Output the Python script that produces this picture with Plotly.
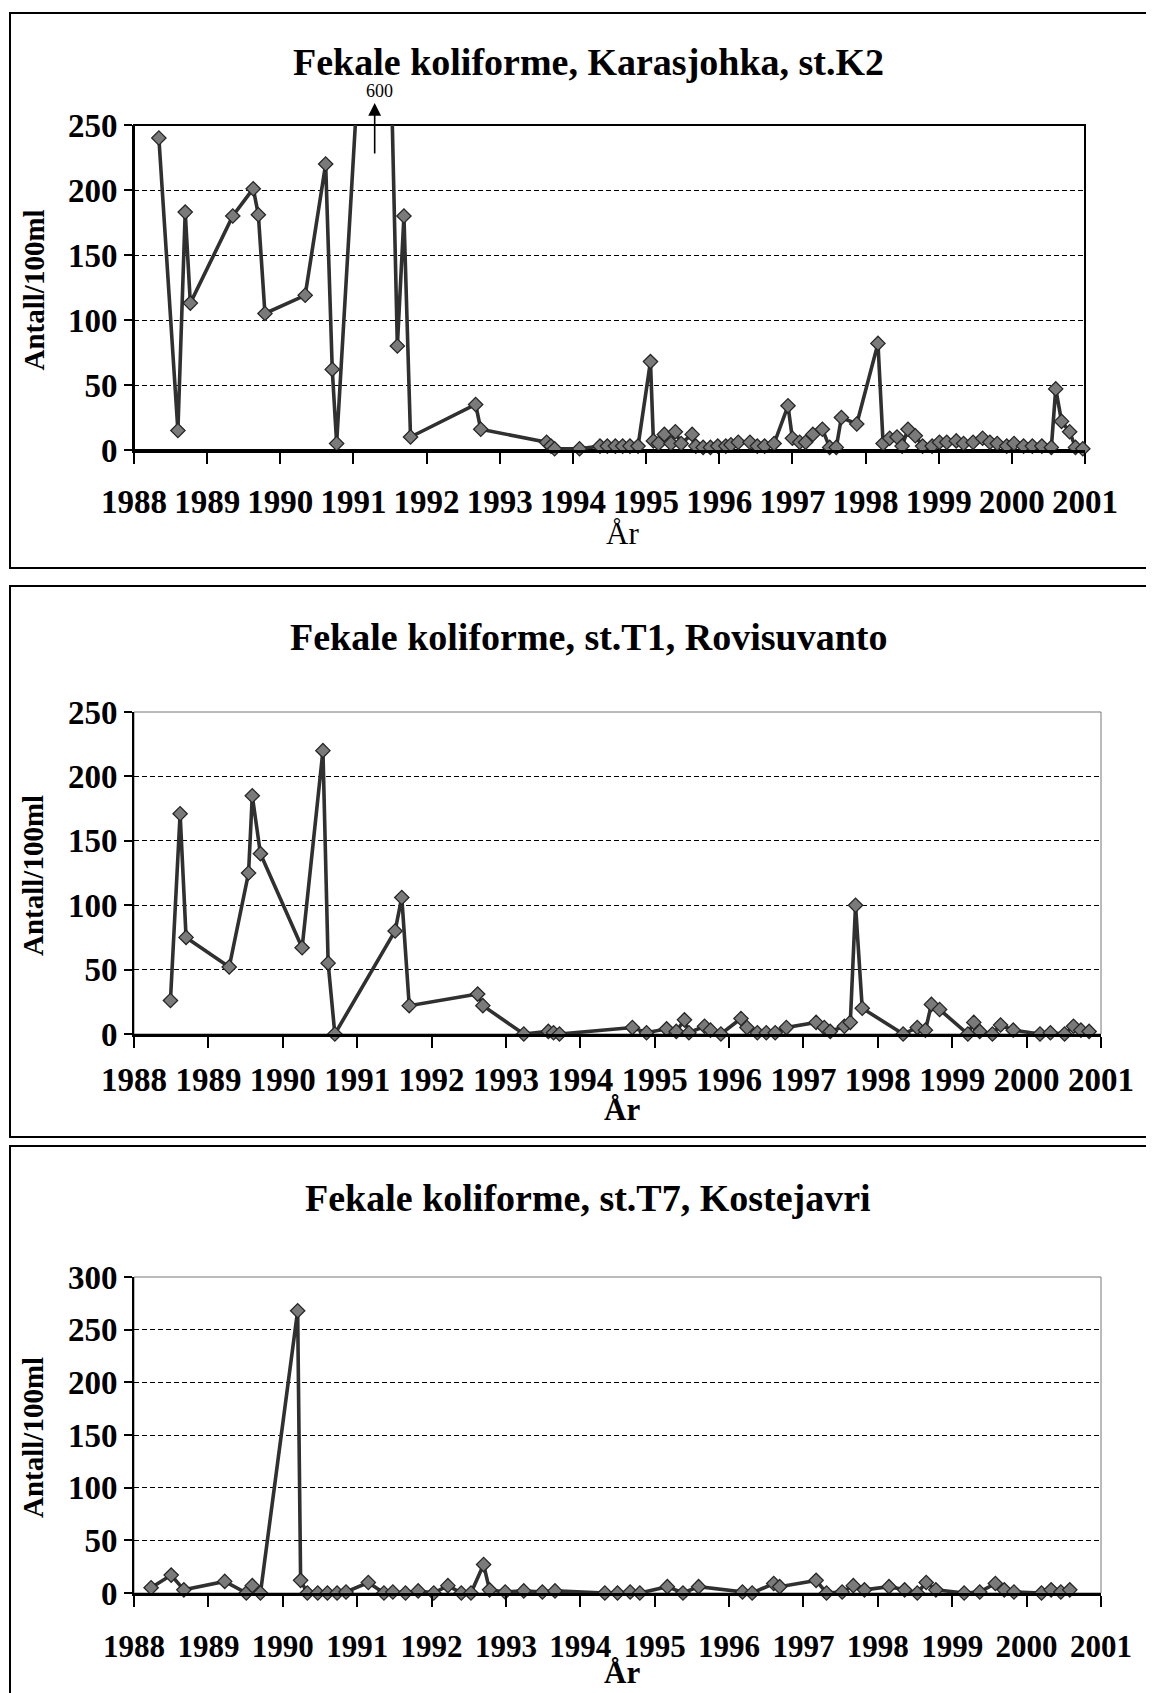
import plotly.graph_objects as go

# ---- data: Fekale koliforme (antall/100ml) ----
years = list(range(1988, 2002))
year_labels = [str(y) for y in years]

# st.K2 Karasjohka
k2_year = [1988.34, 1988.60, 1988.70, 1988.77, 1989.35, 1989.63, 1989.70, 1989.79,
           1990.34, 1990.62, 1990.71, 1990.77, 1991.39, 1991.60, 1991.69, 1991.78,
           1992.67, 1992.74, 1993.64, 1993.70, 1993.75, 1994.09, 1994.37, 1994.47,
           1994.58, 1994.68, 1994.78, 1994.89, 1995.06, 1995.10, 1995.17, 1995.25,
           1995.34, 1995.40, 1995.48, 1995.63, 1995.68, 1995.78, 1995.88, 1995.98,
           1996.09, 1996.16, 1996.26, 1996.42, 1996.52, 1996.62, 1996.75, 1996.94,
           1997.00, 1997.10, 1997.18, 1997.28, 1997.41, 1997.51, 1997.60, 1997.67,
           1997.88, 1998.17, 1998.24, 1998.33, 1998.43, 1998.50, 1998.58, 1998.68,
           1998.78, 1998.91, 1999.01, 1999.11, 1999.24, 1999.34, 1999.47, 1999.60,
           1999.70, 1999.80, 1999.93, 2000.03, 2000.16, 2000.28, 2000.41, 2000.54,
           2000.60, 2000.68, 2000.79, 2000.87, 2000.97]
k2_val = [240, 15, 183, 113, 180, 201, 181, 105,
          119, 220, 62, 5, 600, 80, 180, 10,
          35, 16, 6, 3, 1, 1, 3, 3,
          3, 3, 3, 3, 68, 7, 5, 12,
          5, 14, 5, 12, 3, 2, 2, 3,
          3, 4, 6, 6, 3, 3, 5, 34,
          9, 6, 6, 12, 16, 2, 2, 25,
          20, 82, 5, 9, 10, 3, 16, 11,
          3, 3, 6, 6, 7, 5, 6, 9,
          6, 5, 3, 5, 3, 3, 3, 2,
          47, 22, 14, 2, 1]

# st.T1 Rovisuvanto
t1_year = [1988.49, 1988.62, 1988.70, 1989.28, 1989.54, 1989.59, 1989.70, 1990.26,
           1990.54, 1990.61, 1990.70, 1991.51, 1991.60, 1991.70, 1992.62, 1992.69,
           1993.24, 1993.57, 1993.64, 1993.72, 1994.70, 1994.89, 1995.16, 1995.29,
           1995.40, 1995.46, 1995.67, 1995.75, 1995.89, 1996.16, 1996.24, 1996.38,
           1996.50, 1996.62, 1996.77, 1997.17, 1997.28, 1997.36, 1997.55, 1997.63,
           1997.70, 1997.79, 1998.34, 1998.53, 1998.64, 1998.72, 1998.83, 1999.21,
           1999.29, 1999.37, 1999.54, 1999.65, 1999.82, 2000.18, 2000.32, 2000.51,
           2000.63, 2000.73, 2000.84]
t1_val = [26, 171, 75, 52, 125, 185, 140, 67,
          220, 55, 0, 80, 106, 22, 31, 22,
          0, 2, 1, 0, 5, 1, 4, 2,
          11, 1, 6, 3, 0, 12, 5, 1,
          1, 1, 5, 9, 5, 2, 6, 9,
          100, 20, 0, 5, 3, 23, 19, 0,
          9, 2, 0, 7, 3, 0, 1, 0,
          6, 3, 2]

# st.T7 Kostejavri
t7_year = [1988.23, 1988.50, 1988.67, 1989.22, 1989.51, 1989.59, 1989.70, 1990.20,
           1990.24, 1990.33, 1990.47, 1990.60, 1990.73, 1990.85, 1991.15, 1991.36,
           1991.48, 1991.65, 1991.82, 1992.03, 1992.22, 1992.40, 1992.53, 1992.70,
           1992.78, 1992.99, 1993.24, 1993.49, 1993.66, 1994.33, 1994.50, 1994.67,
           1994.80, 1995.17, 1995.38, 1995.59, 1996.18, 1996.31, 1996.60, 1996.68,
           1997.17, 1997.31, 1997.52, 1997.67, 1997.82, 1998.15, 1998.36, 1998.53,
           1998.65, 1998.78, 1999.16, 1999.37, 1999.58, 1999.70, 1999.83, 2000.20,
           2000.33, 2000.46, 2000.58]
t7_val = [5, 17, 3, 11, 0, 7, 0, 268,
          12, 0, 0, 0, 0, 1, 10, 0,
          1, 0, 2, 0, 7, 0, 0, 27,
          3, 1, 2, 1, 2, 0, 0, 1,
          0, 6, 0, 6, 1, 0, 9, 6,
          12, 0, 1, 7, 3, 6, 3, 0,
          10, 3, 0, 1, 9, 3, 1, 0,
          3, 1, 3]

titles = ["Fekale koliforme, Karasjohka, st.K2",
          "Fekale koliforme, st.T1, Rovisuvanto",
          "Fekale koliforme, st.T7, Kostejavri"]
y_ticks = [[0, 50, 100, 150, 200, 250],
           [0, 50, 100, 150, 200, 250],
           [0, 50, 100, 150, 200, 250, 300]]

W, H = 1154, 1693
OFF = 8  # page body margin
FONT = "Liberation Serif"


def py(px):
    """pixel on page (from top) -> paper y"""
    return 1 - (px - OFF) / H


def px_(x):
    return (x - OFF) / W


panels = [
    dict(x0=134, x1=1085, top=125, bot=450, btop=13, bbot=568, ty=62, stand=9, ar=533,
         tickfs=33, ar_bold=False, border="black", bw=2),
    dict(x0=134, x1=1101, top=712, bot=1034, btop=586, bbot=1137, ty=637, stand=3, ar=1109,
         tickfs=33, ar_bold=True, border="#777", bw=1),
    dict(x0=134, x1=1101, top=1277, bot=1593, btop=1146, bbot=1705, ty=1198, stand=13, ar=1672,
         tickfs=31, ar_bold=True, border="#777", bw=1),
]

data = [(k2_year, k2_val), (t1_year, t1_val), (t7_year, t7_val)]

fig = go.Figure()
annotations = []
shapes = []

for i, (p, (xs, ys), title, yt) in enumerate(zip(panels, data, titles, y_ticks)):
    n = "" if i == 0 else str(i + 1)
    ymax = yt[-1]
    fig.add_trace(go.Scatter(
        x=xs, y=ys, mode="lines+markers",
        xaxis="x" + n, yaxis="y" + n,
        line=dict(color="#303030", width=3.6),
        marker=dict(symbol="diamond", size=11, color="#7a7a7a",
                    opacity=[1 if v <= ymax else 0 for v in ys],
                    line=dict(color="#262626", width=1.3)),
        cliponaxis=False, showlegend=False,
    ))

    fig.update_layout(**{
        "xaxis" + n: dict(
            domain=[px_(p["x0"]), px_(p["x1"])], anchor="y" + n,
            range=[1988, 2001], tickvals=years, ticktext=year_labels,
            showgrid=False, zeroline=False, automargin=False,
            showline=True, linecolor="black", linewidth=3,
            ticks="outside", ticklen=11, tickwidth=1.5, tickcolor="black",
            ticklabelstandoff=p["stand"],
            tickfont=dict(family=FONT, size=p["tickfs"], color="black", weight="bold"),
        ),
        "yaxis" + n: dict(
            domain=[py(p["bot"]), py(p["top"])], anchor="x" + n,
            range=[0, ymax], tickvals=yt,
            showgrid=True, gridcolor="black", griddash="5px,3px", gridwidth=1,
            zeroline=False, automargin=False,
            showline=True, linecolor="black", linewidth=2,
            ticks="outside", ticklen=8, tickwidth=1.5, tickcolor="black",
            ticklabelstandoff=0,
            tickfont=dict(family=FONT, size=33, color="black", weight="bold"),
        ),
    })

    # plot-area border (top/right)
    shapes.append(dict(type="rect", xref="x" + n + " domain", yref="y" + n + " domain",
                       x0=0, x1=1, y0=0, y1=1, layer="below",
                       line=dict(color=p["border"], width=p["bw"])))
    # outer chart frame
    shapes.append(dict(type="rect", xref="paper", yref="paper",
                       x0=px_(10), x1=px_(1152), y0=py(p["bbot"]), y1=py(p["btop"]),
                       line=dict(color="black", width=2)))

    annotations.append(dict(text=title, xref="paper", yref="paper",
                            x=px_(588), y=py(p["ty"]), xanchor="center", yanchor="middle",
                            showarrow=False,
                            font=dict(family=FONT, size=38, color="black", weight="bold")))
    annotations.append(dict(text="Antall/100ml", xref="paper", yref="paper",
                            x=px_(33), y=py((p["top"] + p["bot"]) / 2 + 3), textangle=-90,
                            xanchor="center", yanchor="middle", showarrow=False,
                            font=dict(family=FONT, size=29, color="black", weight="bold")))
    annotations.append(dict(text="År", xref="paper", yref="paper",
                            x=px_(622), y=py(p["ar"]), xanchor="center", yanchor="middle",
                            showarrow=False,
                            font=dict(family=FONT, size=31, color="black",
                                      weight="bold" if p["ar_bold"] else "normal")))

# off-scale peak marker in K2 (value above axis max)
peak_i = max(range(len(k2_val)), key=lambda j: k2_val[j])
annotations.append(dict(text="", x=k2_year[peak_i] - 0.1, xref="x", y=py(103), yref="paper",
                        showarrow=True, ax=0, ay=52, axref="pixel", ayref="pixel",
                        arrowhead=2, arrowsize=1.6, arrowwidth=1.6, arrowcolor="black"))
annotations.append(dict(text=str(k2_val[peak_i]), x=k2_year[peak_i] - 0.04, xref="x",
                        y=py(91), yref="paper", xanchor="center", yanchor="middle",
                        showarrow=False,
                        font=dict(family=FONT, size=18, color="black")))

fig.update_layout(
    width=W, height=H,
    margin=dict(l=0, r=0, t=0, b=0, pad=0, autoexpand=False),
    paper_bgcolor="white", plot_bgcolor="white",
    annotations=annotations, shapes=shapes,
)

fig.write_html("out.html")
